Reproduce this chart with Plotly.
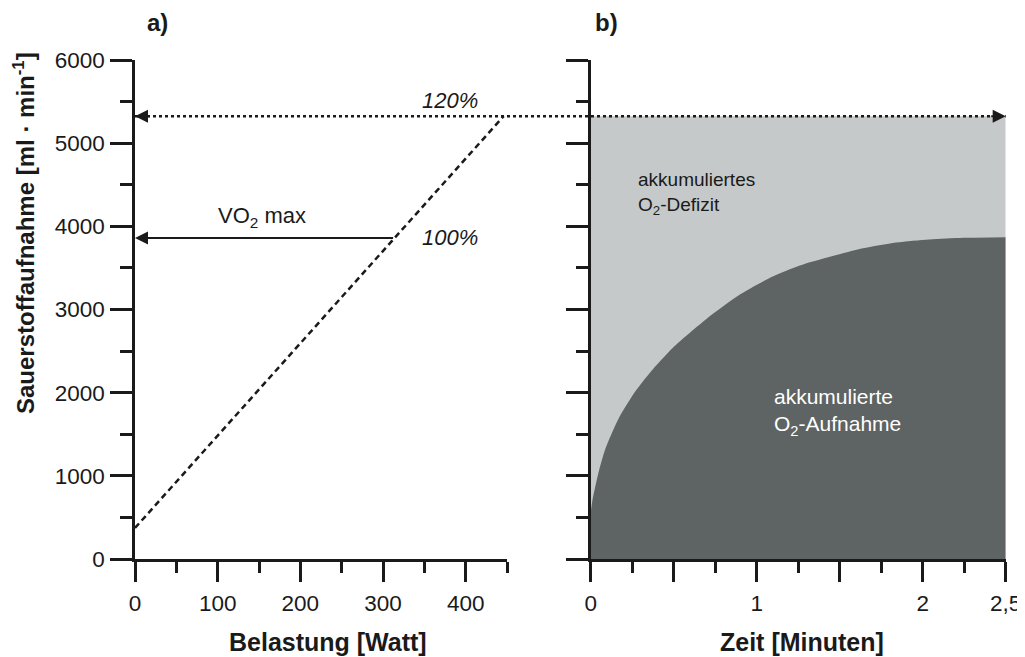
import plotly.graph_objects as go

# ---- data ----
load_watt = [0, 446]
vo2_line = [373, 5325]
vo2max = 3860
vo2max_load = 314
supra_vo2 = 5325

time_min = [0, 0.01, 0.046, 0.086, 0.166, 0.267, 0.357, 0.498, 0.699, 0.899, 1.1, 1.3, 1.5,
            1.64, 1.84, 2.04, 2.245, 2.5]
o2_uptake = [560, 700, 1030, 1310, 1680, 2010, 2240, 2545, 2890, 3180, 3400, 3555, 3665,
             3735, 3805, 3842, 3862, 3870]
demand_t = [0, 2.5]
demand_v = [supra_vo2, supra_vo2]

x1_title = "Belastung [Watt]"
x2_title = "Zeit [Minuten]"
y_title = "Sauerstoffaufnahme [ml · min<sup>-1</sup>]"
x2_tickvals = [0, 0.5, 1, 1.5, 2, 2.5]
x2_ticktext = ["0", "", "1", "", "2", "2,5"]

# page body has an 8px margin -> figure is 1017x649 inside the 1025x657 window
OFF = 8
W, H = 1017, 649
FONT = "Liberation Sans, Arial, sans-serif"
INK = "#1a1a1a"
LIGHT = "#c5c9c9"
DARK = "#5e6363"


def px(x):
    return (x - OFF) / W


def py(y):
    return 1 - (y - OFF) / H


xdom1 = [px(135), px(507)]
xdom2 = [px(590.7), px(1005.7)]
ydom = [py(559), py(60)]
xr1 = [0, 450]
xr2 = [0, 2.5]

fig = go.Figure()

# panel b fills
fig.add_trace(go.Scatter(x=demand_t, y=demand_v, xaxis="x2", yaxis="y2", mode="lines",
                         line=dict(width=0, color=LIGHT), fill="tozeroy", fillcolor=LIGHT,
                         hoverinfo="skip", showlegend=False))
fig.add_trace(go.Scatter(x=time_min, y=o2_uptake, xaxis="x2", yaxis="y2", mode="lines",
                         line=dict(width=0, color=DARK, shape="spline", smoothing=0.7),
                         fill="tozeroy", fillcolor=DARK, hoverinfo="skip", showlegend=False))

# panel a dashed line
fig.add_trace(go.Scatter(x=load_watt, y=vo2_line, xaxis="x", yaxis="y", mode="lines",
                         line=dict(color=INK, width=2.5, dash="6px,4px"),
                         hoverinfo="skip", showlegend=False))

tickfont = dict(family=FONT, size=22.5, color=INK)
common = dict(showgrid=False, zeroline=False, showline=True, linecolor=INK, linewidth=2.5,
              ticks="outside", tickcolor=INK, tickwidth=2.5, tickfont=tickfont,
              fixedrange=True, automargin=False)

fig.update_layout(
    width=W, height=H, margin=dict(l=0, r=0, t=0, b=0),
    paper_bgcolor="white", plot_bgcolor="white",
    xaxis=dict(domain=xdom1, range=xr1, anchor="y", dtick=100, tick0=0, ticklen=20,
               minor=dict(tickmode="linear", tick0=0, dtick=50, ticklen=11, tickwidth=2.5,
                          tickcolor=INK, ticks="outside", showgrid=False),
               ticklabelstandoff=2, **common),
    xaxis2=dict(domain=xdom2, range=xr2, anchor="y2", tickmode="array", tickvals=x2_tickvals,
                ticktext=x2_ticktext, ticklen=20,
                minor=dict(tickmode="linear", tick0=0, dtick=0.25, ticklen=11, tickwidth=2.5,
                           tickcolor=INK, ticks="outside", showgrid=False),
                ticklabelstandoff=2, **common),
    yaxis=dict(domain=ydom, range=[0, 6000], anchor="x", dtick=1000, tick0=0, ticklen=22,
               minor=dict(tickmode="linear", tick0=0, dtick=500, ticklen=12, tickwidth=2.5,
                          tickcolor=INK, ticks="outside", showgrid=False),
               ticklabelstandoff=1, **common),
    yaxis2=dict(domain=ydom, range=[0, 6000], anchor="x2", dtick=1000, tick0=0, ticklen=22,
                showticklabels=False,
                minor=dict(tickmode="linear", tick0=0, dtick=500, ticklen=12, tickwidth=2.5,
                           tickcolor=INK, ticks="outside", showgrid=False),
                **common),
)

# axis titles placed as in the reference
bold = dict(family=FONT, size=25, color=INK, weight="bold")
fig.add_annotation(x=px(24), y=py(233), xref="paper", yref="paper", showarrow=False,
                   xanchor="center", yanchor="middle", textangle=-90, text=y_title,
                   font=dict(family=FONT, size=24, color=INK, weight="bold"))
fig.add_annotation(x=px(328), y=py(642), xref="paper", yref="paper", showarrow=False,
                   xanchor="center", yanchor="middle", text=x1_title, font=bold)
fig.add_annotation(x=px(802), y=py(642), xref="paper", yref="paper", showarrow=False,
                   xanchor="center", yanchor="middle", text=x2_title, font=bold)


# dotted line spanning both panels (paper x from axis domains, y in data)
def to_paper(v, dom, rng):
    return dom[0] + (v - rng[0]) / (rng[1] - rng[0]) * (dom[1] - dom[0])


fig.add_shape(type="line", xref="paper", yref="y",
              x0=to_paper(0, xdom1, xr1), x1=to_paper(demand_t[-1], xdom2, xr2),
              y0=supra_vo2, y1=supra_vo2,
              line=dict(color=INK, width=2.5, dash="dot"), layer="above")

arrow = dict(showarrow=True, arrowhead=2, arrowsize=1.3, arrowwidth=2, arrowcolor=INK, text="")
fig.add_annotation(x=0, y=supra_vo2, xref="x", yref="y", ax=16, ay=0, **arrow)
fig.add_annotation(x=demand_t[-1], y=supra_vo2, xref="x2", yref="y2", ax=-16, ay=0, **arrow)
# VO2max arrow
fig.add_annotation(x=0, y=vo2max, xref="x", yref="y", ax=vo2max_load, ay=vo2max,
                   axref="x", ayref="y", **arrow)

txt = dict(family=FONT, size=22, color=INK)
fig.add_annotation(x=154, y=4110, xref="x", yref="y", showarrow=False,
                   text="VO<sub>2</sub> max", font=txt)
fig.add_annotation(x=345, y=vo2max, xref="x", yref="y", showarrow=False, xanchor="left",
                   text="<i>100%</i>", font=txt)
fig.add_annotation(x=381, y=5510, xref="x", yref="y", showarrow=False,
                   text="<i>120%</i>", font=txt)
fig.add_annotation(x=0.275, y=4400, xref="x2", yref="y2", showarrow=False, xanchor="left",
                   align="left", text="akkumuliertes<br>O<sub>2</sub>-Defizit",
                   font=dict(family=FONT, size=19, color=INK))
fig.add_annotation(x=1.095, y=1770, xref="x2", yref="y2", showarrow=False, xanchor="left",
                   align="left", text="akkumulierte<br>O<sub>2</sub>-Aufnahme",
                   font=dict(family=FONT, size=21, color="white"))

# panel labels
lab = dict(family=FONT, size=24, color=INK, weight="bold")
fig.add_annotation(x=px(157), y=py(23), xref="paper", yref="paper", showarrow=False,
                   xanchor="center", yanchor="middle", text="a)", font=lab)
fig.add_annotation(x=px(606), y=py(23), xref="paper", yref="paper", showarrow=False,
                   xanchor="center", yanchor="middle", text="b)", font=lab)

fig.write_html("out.html")
